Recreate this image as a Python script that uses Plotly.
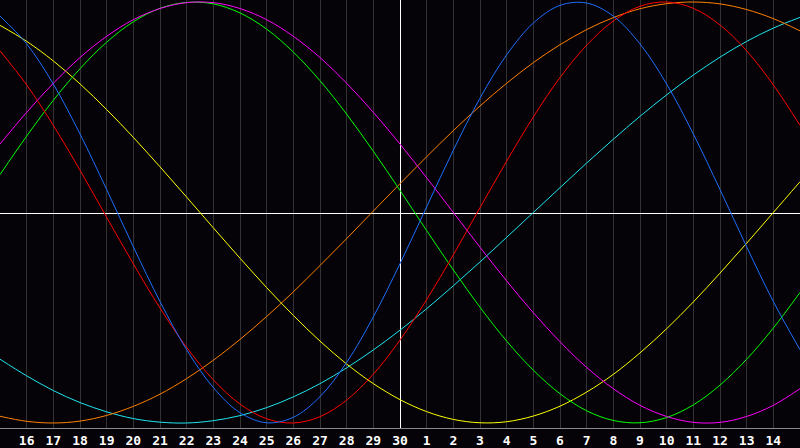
import plotly.graph_objects as go

# day index 0..30 (day 15 .. day 15 of next month); "today" = index 15 (day 30)
day_index = list(range(31))
tick_positions = list(range(1, 30))
tick_labels = [str(d) for d in range(16, 31)] + [str(d) for d in range(1, 15)]
today_index = 15

physical_23 = [0.933, 0.801, 0.610, 0.373, 0.109, -0.163, -0.423, -0.652, -0.832, -0.951,
               -0.999, -0.973, -0.875, -0.712, -0.496, -0.243, 0.027, 0.296, 0.543, 0.749,
               0.900, 0.984, 0.995, 0.933, 0.801, 0.610, 0.373, 0.109, -0.163, -0.423, -0.652]
emotional_28 = [0.768, 0.606, 0.414, 0.201, -0.023, -0.244, -0.454, -0.641, -0.795, -0.910,
                -0.980, -1.000, -0.970, -0.891, -0.768, -0.606, -0.414, -0.201, 0.023, 0.244,
                0.454, 0.641, 0.795, 0.910, 0.980, 1.000, 0.970, 0.891, 0.768, 0.606, 0.414]
intellectual_33 = [0.180, 0.363, 0.533, 0.683, 0.809, 0.906, 0.970, 0.998, 0.991, 0.948,
                   0.871, 0.762, 0.626, 0.467, 0.291, 0.105, -0.086, -0.273, -0.450, -0.611,
                   -0.749, -0.861, -0.942, -0.988, -0.999, -0.974, -0.914, -0.820, -0.697, -0.549, -0.380]
intuitive_38 = [0.325, 0.476, 0.614, 0.736, 0.837, 0.916, 0.969, 0.997, 0.997, 0.969,
                0.916, 0.837, 0.736, 0.614, 0.476, 0.325, 0.165, 0.000, -0.165, -0.325,
                -0.476, -0.614, -0.736, -0.837, -0.916, -0.969, -0.997, -0.997, -0.969, -0.916, -0.837]
aesthetic_43 = [0.889, 0.813, 0.720, 0.611, 0.489, 0.357, 0.217, 0.073, -0.073, -0.217,
                -0.357, -0.489, -0.611, -0.720, -0.813, -0.889, -0.946, -0.983, -0.999, -0.994,
                -0.967, -0.920, -0.853, -0.769, -0.667, -0.552, -0.425, -0.288, -0.146, 0.000, 0.146]
awareness_48 = [-0.968, -0.992, -1.000, -0.991, -0.964, -0.921, -0.863, -0.789, -0.702, -0.603,
                -0.494, -0.377, -0.252, -0.124, 0.007, 0.137, 0.265, 0.389, 0.506, 0.614,
                0.712, 0.797, 0.869, 0.926, 0.968, 0.992, 1.000, 0.991, 0.964, 0.921, 0.863]
spiritual_53 = [-0.697, -0.776, -0.846, -0.903, -0.947, -0.979, -0.996, -1.000, -0.989, -0.965,
                -0.927, -0.876, -0.813, -0.738, -0.653, -0.559, -0.457, -0.348, -0.235, -0.118,
                0.000, 0.118, 0.235, 0.348, 0.457, 0.559, 0.653, 0.738, 0.813, 0.876, 0.927]

series = [
    ("Spiritual", spiritual_53, "#1ee6f0"),
    ("Awareness", awareness_48, "#ff8000"),
    ("Aesthetic", aesthetic_43, "#ffff00"),
    ("Intellectual", intellectual_33, "#00ff00"),
    ("Intuitive", intuitive_38, "#ff00ff"),
    ("Emotional", emotional_28, "#ff0000"),
    ("Physical", physical_23, "#1e6eff"),
]

fig = go.Figure()
for name, vals, col in series:
    fig.add_trace(go.Scatter(x=day_index, y=vals, mode="lines", name=name,
                             line=dict(color=col, width=1, shape="spline", smoothing=1.0),
                             hoverinfo="skip"))

# half-pixel offsets keep the 1px white reference lines crisp
y_lo, y_hi = -1.0238, 1.0095
px_x = 30 / 800.0
px_y = (y_hi - y_lo) / 428.0
fig.add_shape(type="line", xref="x", yref="y", x0=today_index + 0.5 * px_x, x1=today_index + 0.5 * px_x,
              y0=y_lo, y1=y_hi, line=dict(color="#ffffff", width=1), layer="between")
fig.add_shape(type="line", xref="x", yref="y", x0=0, x1=30, y0=-px_y, y1=-px_y,
              line=dict(color="#ffffff", width=1), layer="between")

bg = "#050307"
fig.update_layout(
    width=800, height=448,
    margin=dict(l=0, r=0, t=0, b=20),
    paper_bgcolor=bg, plot_bgcolor=bg,
    showlegend=False,
    xaxis=dict(range=[0, 30], tickmode="array", tickvals=tick_positions, ticktext=tick_labels,
               showgrid=True, gridcolor="#333333", gridwidth=1, zeroline=False,
               ticks="", showline=True, linecolor="#888888", linewidth=1, mirror=True,
               tickfont=dict(family="DejaVu Sans Mono", size=13, color="#ffffff", weight="bold")),
    yaxis=dict(range=[y_lo, y_hi], showgrid=False, zeroline=False, showticklabels=False,
               ticks="", showline=True, linecolor="#888888", linewidth=1, mirror=True),
)

fig.write_html("out.html", config={"displayModeBar": False, "staticPlot": True},
               post_script="document.body.style.margin='0px';document.body.style.overflow='hidden';"
                           "document.body.style.background='#050307';")
